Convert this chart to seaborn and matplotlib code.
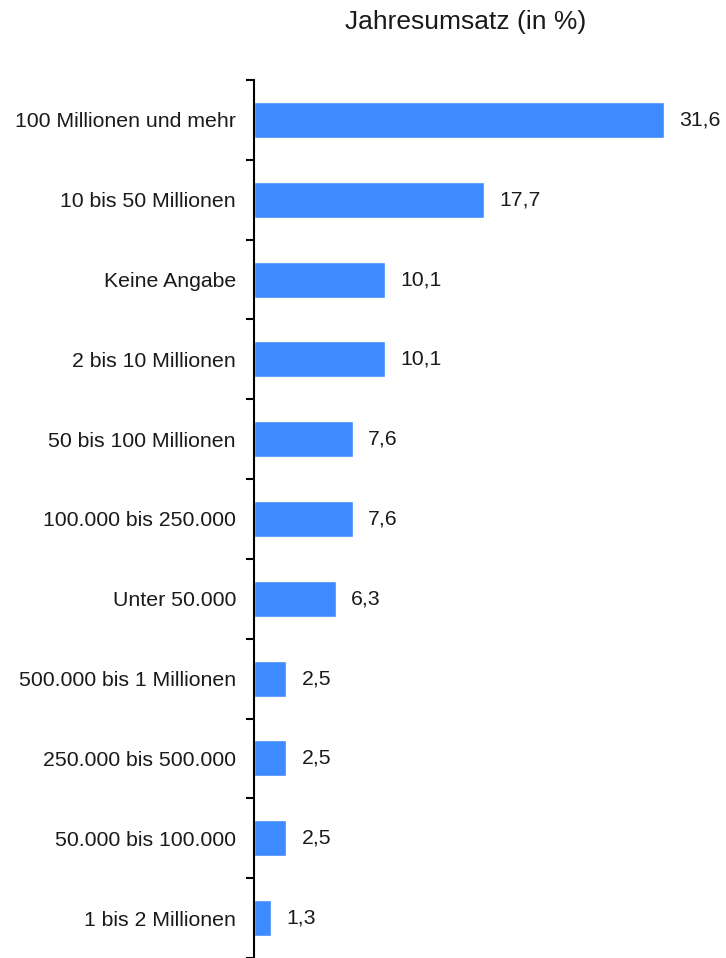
import matplotlib.pyplot as plt
import seaborn as sns
import pandas as pd
import numpy as np

categories = [
    "100 Millionen und mehr",
    "10 bis 50 Millionen",
    "Keine Angabe",
    "2 bis 10 Millionen",
    "50 bis 100 Millionen",
    "100.000 bis 250.000",
    "Unter 50.000",
    "500.000 bis 1 Millionen",
    "250.000 bis 500.000",
    "50.000 bis 100.000",
    "1 bis 2 Millionen",
]
values = [31.6, 17.7, 10.1, 10.1, 7.6, 7.6, 6.3, 2.5, 2.5, 2.5, 1.3]
title = "Jahresumsatz (in %)"

df = pd.DataFrame({"kategorie": categories, "wert": values})

sns.set_style("white")
plt.rcParams["font.family"] = ["Liberation Sans", "DejaVu Sans"]

fig = plt.figure(figsize=(7.26, 9.58), dpi=100)
ax = fig.add_axes([254 / 726, 0.0, 1 - 254 / 726, 1 - 80 / 958])

sns.barplot(
    data=df,
    x="wert",
    y="kategorie",
    orient="h",
    color="#3d8bff",
    saturation=1,
    width=0.45,
    ax=ax
)

ax.set_xlim(0, 36.4)
ax.set_ylim(len(categories) - 0.5, -0.5)

for i, v in enumerate(values):
    ax.text(
        v + 1.2, i, f"{v:.1f}".replace(".", ","),
        va="center", ha="left", fontsize=15.3, color="#1a1a1a"
    )

ax.set_xlabel("")
ax.set_ylabel("")
ax.set_xticks([])
ax.tick_params(axis="y", length=0, pad=13, labelsize=15.3, labelcolor="#1a1a1a")
ax.set_yticks(np.arange(-0.5, len(categories), 1), minor=True)
ax.tick_params(axis="y", which="minor", left=True, length=6, width=1.5,
               color="black", direction="out")

for side in ["top", "right", "bottom"]:
    ax.spines[side].set_visible(False)
ax.spines["left"].set_color("black")
ax.spines["left"].set_linewidth(1.5)

fig.text(466 / 726, 1 - 22 / 958, title, ha="center", va="center",
         fontsize=19, color="#1a1a1a")

plt.savefig("out.png", dpi=100)
plt.close()
